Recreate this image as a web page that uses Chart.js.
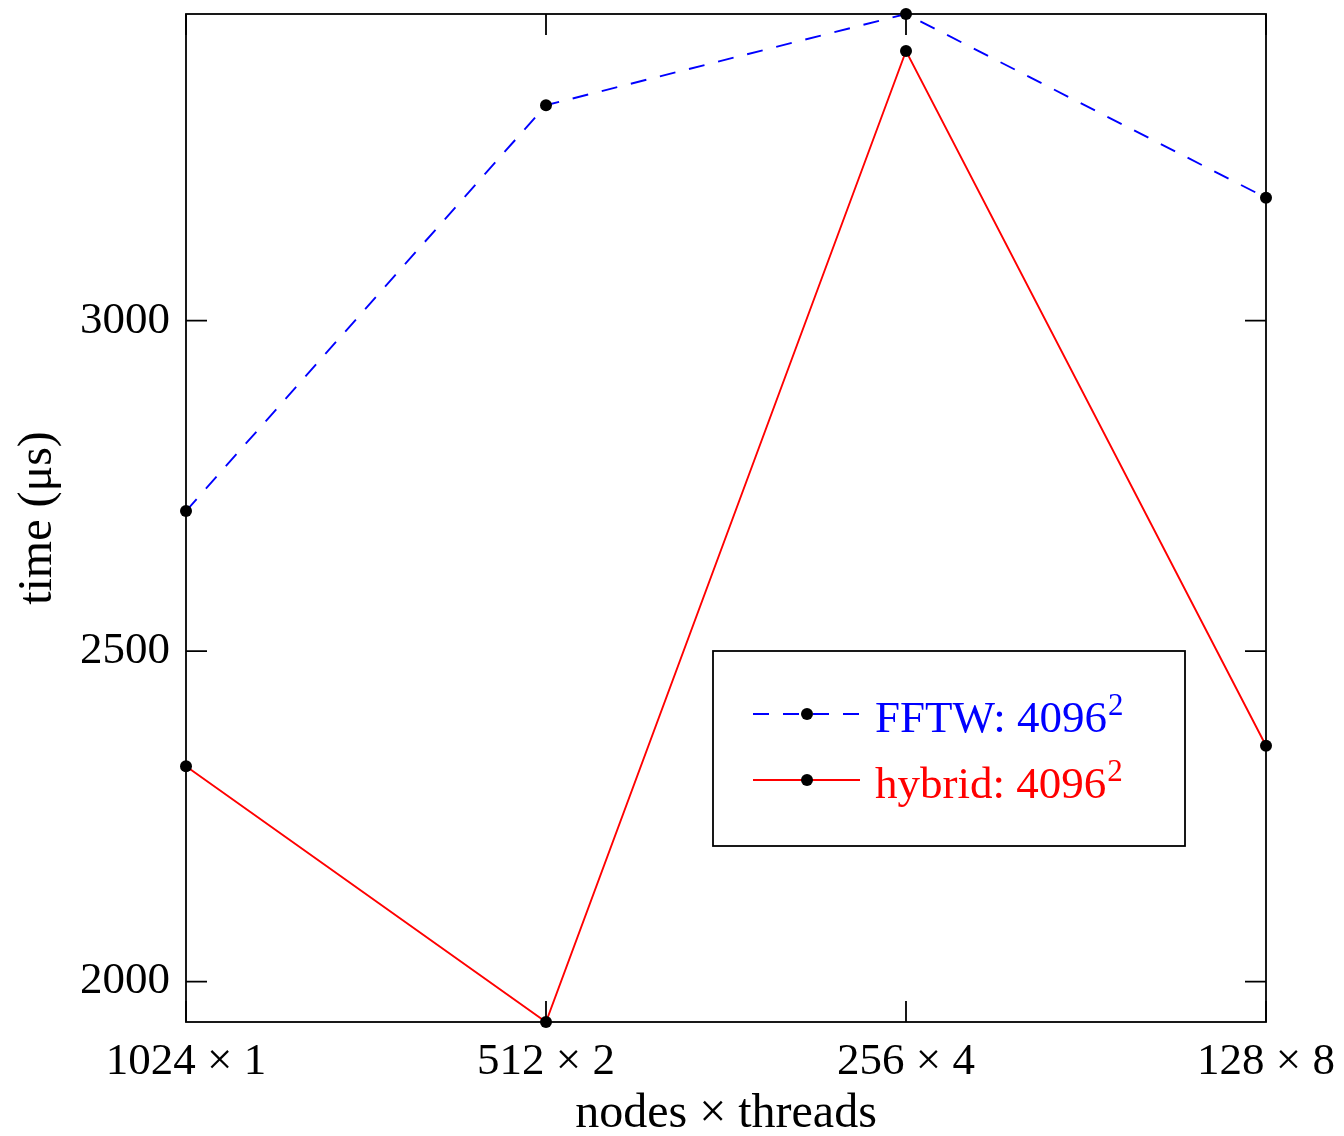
<!DOCTYPE html>
<html><head><meta charset="utf-8">
<script src="https://cdn.jsdelivr.net/npm/chart.js@4/dist/chart.umd.min.js"></script>
<style>html,body{margin:0;padding:0;background:#fff}canvas{display:block}</style>
</head><body>
<canvas id="c" width="1344" height="1136"></canvas>
<script>
const categories = ['1024 × 1', '512 × 2', '256 × 4', '128 × 8'];
const fftwTimes = [2712, 3326, 3464, 3186];
const hybridTimes = [2326, 1939, 3408, 2357];
const yTickValues = [2000, 2500, 3000];
const seriesLabels = ['FFTW: 4096²', 'hybrid: 4096²'];
const xTitle = 'nodes × threads';
const yTitle = 'time (μs)';

const FONT = "'Liberation Serif', 'Times New Roman', serif";
const allVals = fftwTimes.concat(hybridTimes);

const frame = {
  id: 'frame',
  beforeDatasetsDraw(chart) {
    const {ctx, chartArea: a, scales: {x, y}} = chart;
    ctx.save();
    ctx.strokeStyle = '#000';
    ctx.lineWidth = 1.8;
    ctx.strokeRect(a.left, a.top, a.right - a.left, a.bottom - a.top);
    const L = 21;
    ctx.beginPath();
    x.ticks.forEach((t, i) => {
      const px = x.getPixelForTick(i);
      ctx.moveTo(px, a.bottom); ctx.lineTo(px, a.bottom - L);
      ctx.moveTo(px, a.top); ctx.lineTo(px, a.top + L);
    });
    y.ticks.forEach(t => {
      const py = y.getPixelForValue(t.value);
      ctx.moveTo(a.left, py); ctx.lineTo(a.left + L, py);
      ctx.moveTo(a.right, py); ctx.lineTo(a.right - L, py);
    });
    ctx.stroke();
    ctx.restore();
  }
};

const boxLegend = {
  id: 'boxLegend',
  afterDraw(chart) {
    const {ctx, chartArea: a} = chart;
    const bx = a.left + 527, by = a.top + 637, bw = 472, bh = 195;
    ctx.save();
    ctx.fillStyle = '#fff';
    ctx.fillRect(bx, by, bw, bh);
    ctx.strokeStyle = '#000';
    ctx.lineWidth = 1.8;
    ctx.strokeRect(bx, by, bw, bh);
    chart.data.datasets.forEach((ds, i) => {
      const ly = by + 63 + i * 66;
      const x0 = bx + 40, x1 = bx + 147, xm = bx + 94;
      ctx.strokeStyle = ds.borderColor;
      ctx.lineWidth = ds.borderWidth;
      ctx.setLineDash(ds.borderDash || []);
      ctx.beginPath(); ctx.moveTo(x0, ly); ctx.lineTo(x1, ly); ctx.stroke();
      ctx.setLineDash([]);
      ctx.fillStyle = '#000';
      ctx.beginPath(); ctx.arc(xm, ly, ds.pointRadius, 0, Math.PI * 2); ctx.fill();
      ctx.fillStyle = ds.borderColor;
      ctx.textAlign = 'left';
      ctx.textBaseline = 'alphabetic';
      const parts = ds.label.split('²');
      const base = ly + 18;
      let tx = bx + 162;
      ctx.font = '45px ' + FONT;
      ctx.fillText(parts[0], tx, base);
      tx += ctx.measureText(parts[0]).width + 1;
      if (ds.label.indexOf('²') >= 0) {
        ctx.font = '31px ' + FONT;
        ctx.fillText('2', tx, base - 17);
      }
    });
    ctx.restore();
  }
};

new Chart(document.getElementById('c'), {
  type: 'line',
  data: {
    labels: categories,
    datasets: [
      {
        label: seriesLabels[0], data: fftwTimes,
        borderColor: '#0000ff', borderWidth: 1.9, borderDash: [16, 14],
        pointBackgroundColor: '#000', pointBorderColor: '#000', pointRadius: 6, pointBorderWidth: 0,
        tension: 0, fill: false, clip: false
      },
      {
        label: seriesLabels[1], data: hybridTimes,
        borderColor: '#ff0000', borderWidth: 1.9,
        pointBackgroundColor: '#000', pointBorderColor: '#000', pointRadius: 6, pointBorderWidth: 0,
        tension: 0, fill: false, clip: false
      }
    ]
  },
  options: {
    responsive: false,
    animation: false,
    devicePixelRatio: 1,
    layout: {padding: {top: 14, right: 78, left: 0, bottom: 0}},
    plugins: {legend: {display: false}, tooltip: {enabled: false}},
    scales: {
      x: {
        type: 'category',
        offset: false,
        grid: {display: false, drawTicks: false},
        border: {display: false},
        ticks: {color: '#000', font: {family: FONT, size: 45, lineHeight: 1}, padding: 18, maxRotation: 0, autoSkip: false},
        title: {display: true, text: xTitle, color: '#000', font: {family: FONT, size: 48, lineHeight: 0.9}, padding: {top: 0, bottom: 0}},
        afterFit(s) { s.height = 114; s.paddingLeft = 0; s.paddingRight = 0; }
      },
      y: {
        type: 'linear',
        min: Math.min(...allVals),
        max: Math.max(...allVals),
        grid: {display: false, drawTicks: false},
        border: {display: false},
        afterBuildTicks(s) { s.ticks = yTickValues.map(v => ({value: v})); },
        ticks: {color: '#000', font: {family: FONT, size: 45, lineHeight: 1}, padding: 16, callback: v => String(v)},
        title: {display: true, text: yTitle, color: '#000', font: {family: FONT, size: 48, lineHeight: 0.9}, padding: {top: 17, bottom: 0}},
        afterFit(s) { s.width = 186; s.paddingTop = 0; s.paddingBottom = 0; }
      }
    }
  },
  plugins: [frame, boxLegend]
});
</script>
</body></html>
